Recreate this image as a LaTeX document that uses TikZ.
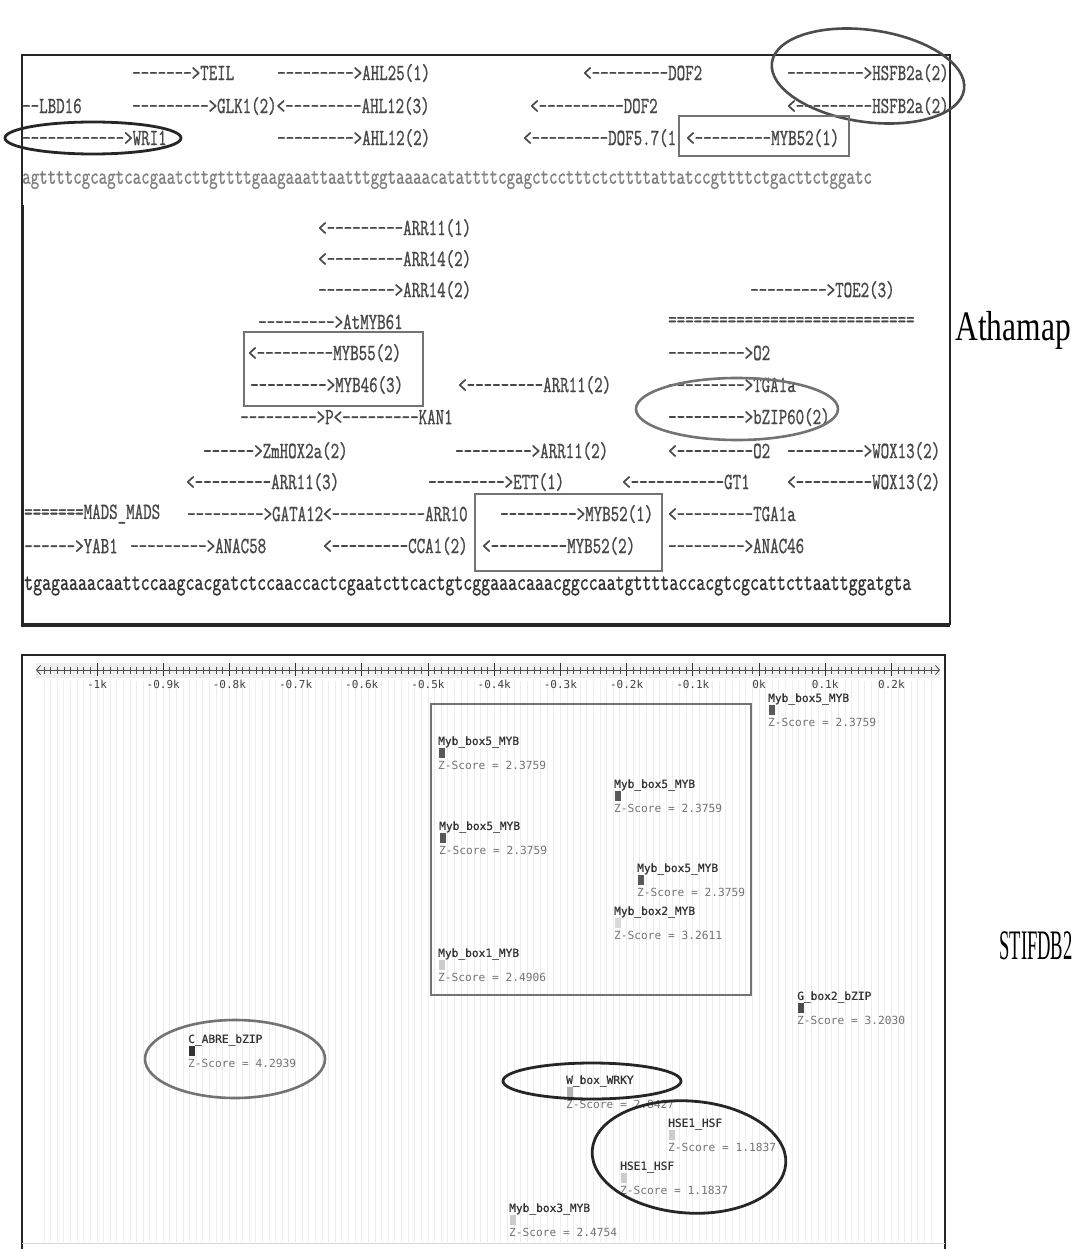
\documentclass[tikz,border=0pt]{standalone}
\usepackage{graphicx}
\usepackage{fontspec}
\setmainfont{Liberation Serif}
\newfontfamily\dnafont[Ligatures=TeXOff, FakeBold=1.2]{Latin Modern Mono}
\newfontfamily\webfont[Ligatures=TeXOff]{DejaVu Sans Mono}
\newfontfamily\webbold[Ligatures=TeXOff, FakeBold=0.8]{DejaVu Sans Mono}
\usetikzlibrary{arrows.meta}
\newcommand{\tall}[1]{\scalebox{1}[1.4]{#1}}
\tikzset{
  lbl/.style={anchor=west, inner sep=0pt, text=black!72, font=\fontsize{16.5}{17}\dnafont},
  seqtxt/.style={anchor=west, inner sep=0pt, text=black!50, font=\fontsize{16.5}{17}\dnafont},
  hilite/.style={draw=black!55, line width=2.6pt},
  ring/.style={draw=black!85, line width=2.8pt},
  sitename/.style={anchor=west, inner sep=0pt, text=black!80, font=\fontsize{11.2}{12}\webbold},
  sitescore/.style={anchor=west, inner sep=0pt, text=black!55, font=\fontsize{11.2}{12}\webfont},
  ticklbl/.style={inner sep=0pt, text=black!75, font=\fontsize{11}{12}\webfont},
  toolname/.style={inner sep=0pt, font=\fontsize{30}{32}\selectfont},
}
% one STIFDB2 hit: name, bar, score
\newcommand{\site}[6]{%
  \node[sitename] (#1n) at (#2,#3) {#4};
  \fill[#6] (#2+0.5,#3+6) rectangle ++(6,10);
  \node[sitescore] (#1z) at (#2,#3+23) {Z-Score = #5};}
\begin{document}
\begin{tikzpicture}[x=1pt,y=-1pt]
\useasboundingbox (0,0) rectangle (1082,1249);

% AthaMap panel
\draw[line width=1.5pt, black!85] (22,55) rectangle (950,624);
\draw[line width=3pt, black!85] (22,205) -- (22,625) -- (950,625);

\node[lbl] (teil) at (132,73) {\tall{------->TEIL}};
\node[lbl] (ahlA) at (277,73) {\tall{--------->AHL25(1)}};
\node[lbl] (dofA) at (583,73) {\tall{<---------DOF2}};
\node[lbl] (hsfA) at (787,73) {\tall{--------->HSFB2a(2)}};

\node[lbl] (lbd) at (22,106) {\tall{--LBD16}};
\node[lbl] (glk) at (132,106) {\tall{--------->GLK1(2)<---------AHL12(3)}};
\node[lbl] (dofB) at (530,106) {\tall{<----------DOF2}};
\node[lbl] (hsfB) at (787,106) {\tall{<---------HSFB2a(2)}};

\node[lbl] (wri) at (22,138) {\tall{------------>WRI1}};
\node[lbl] (ahlC) at (277,138) {\tall{--------->AHL12(2)}};
\node[lbl] (dofC) at (523,138) {\tall{<---------DOF5.7(1}};
\node[lbl] (mybA) at (686,138) {\tall{<---------MYB52(1)}};

\node[seqtxt] (seqA) at (22,180) {\tall{agttttcgcagtcacgaatcttgttttgaagaaattaatttggtaaaacatattttcgagctcctttctcttttattatccgttttctgacttctggatc}};

\node[lbl] (arrA) at (318,228) {\tall{<---------ARR11(1)}};
\node[lbl] (arrB) at (318,259) {\tall{<---------ARR14(2)}};
\node[lbl] (arrC) at (318,290) {\tall{--------->ARR14(2)}};
\node[lbl] (toe) at (750,290) {\tall{--------->TOE2(3)}};
\node[lbl] (atmyb) at (258,322) {\tall{--------->AtMYB61}};
\node[lbl] (eqs) at (668,322) {\tall{=============================}};
\node[lbl] (myb55) at (248,353) {\tall{<---------MYB55(2)}};
\node[lbl] (otwo) at (668,353) {\tall{--------->O2}};
\node[lbl] (myb46) at (250,385) {\tall{--------->MYB46(3)}};
\node[lbl] (arrD) at (458,385) {\tall{<---------ARR11(2)}};
\node[lbl] (tga) at (668,385) {\tall{--------->TGA1a}};
\node[lbl] (pkan) at (240,417) {\tall{--------->P<---------KAN1}};
\node[lbl] (bzip) at (668,417) {\tall{--------->bZIP60(2)}};
\node[lbl] (zmhox) at (203,451) {\tall{------>ZmHOX2a(2)}};
\node[lbl] (arrE) at (455,451) {\tall{--------->ARR11(2)}};
\node[lbl] (otwoB) at (668,451) {\tall{<---------O2}};
\node[lbl] (woxA) at (787,451) {\tall{--------->WOX13(2)}};
\node[lbl] (arrF) at (186,482) {\tall{<---------ARR11(3)}};
\node[lbl] (ett) at (428,482) {\tall{--------->ETT(1)}};
\node[lbl] (gt) at (622,482) {\tall{<-----------GT1}};
\node[lbl] (woxB) at (787,482) {\tall{<---------WOX13(2)}};
\node[lbl] (mads) at (24,514) {\tall{=======MADS\_MADS}};
\node[lbl] (gata) at (187,514) {\tall{--------->GATA12<-----------ARR10}};
\node[lbl] (mybB) at (500,514) {\tall{--------->MYB52(1)}};
\node[lbl] (tgaB) at (668,514) {\tall{<---------TGA1a}};
\node[lbl] (yab) at (24,546) {\tall{------>YAB1}};
\node[lbl] (anac58) at (130,546) {\tall{--------->ANAC58}};
\node[lbl] (cca) at (323,546) {\tall{<---------CCA1(2)}};
\node[lbl] (mybC) at (482,546) {\tall{<---------MYB52(2)}};
\node[lbl] (anac46) at (668,546) {\tall{--------->ANAC46}};

\node[seqtxt, text=black!80, font=\fontsize{17.4}{18}\dnafont] (seqB) at (24,586) {\tall{tgagaaaacaattccaagcacgatctccaaccactcgaatcttcactgtcggaaacaaacggccaatgttttaccacgtcgcattcttaattggatgta}};

% marks on the AthaMap panel
\draw[ring] (93,138) ellipse (88 and 16);
\draw[hilite, black!70, rotate around={-8:(868,76)}] (868,76) ellipse (97 and 46);
\draw[hilite] (679,116) rectangle (849,156);
\draw[hilite] (244,332) rectangle (423,406);
\draw[hilite] (737,409) ellipse (101 and 31);
\draw[hilite] (475,494) rectangle (662,571);

\node[toolname] (athamap) at (1013,330) {\scalebox{1.05}[1.4]{Athamap}};

% STIFDB2 panel
\foreach \i in {-108,...,26} {
  \pgfmathsetmacro\xx{759+6.62*\i}
  \draw[black!7, line width=1pt] (\xx,681) -- (\xx,1242);
}
\draw[line width=1.5pt, black!85] (22,1249) -- (22,655) -- (945,655) -- (945,1249);
\draw[black!15, line width=1pt] (22,1243) -- (945,1243);

\fill[black!6] (36,663) rectangle (940,678);
\coordinate (rulL) at (36,670);
\coordinate (rulR) at (940,670);
\draw[black!70, line width=0.8pt, {Straight Barb[length=4pt,width=9pt]}-{Straight Barb[length=4pt,width=9pt]}] (rulL) -- (rulR);
\foreach \i in {-108,...,26} {
  \pgfmathsetmacro\xx{759+6.62*\i}
  \draw[black!70, line width=0.7pt] (\xx,666.5) -- (\xx,673.5);
}
\foreach \k/\t [count=\c] in {-10/-1k,-9/-0.9k,-8/-0.8k,-7/-0.7k,-6/-0.6k,-5/-0.5k,-4/-0.4k,-3/-0.3k,-2/-0.2k,-1/-0.1k,0/0k,1/0.1k,2/0.2k} {
  \draw[black!80, line width=1pt] (759+66.2*\k,663) -- (759+66.2*\k,676);
  \node[ticklbl] (tick\c) at (759+66.2*\k,684) {\t};
}

\draw[hilite] (431,704) rectangle (751,995);

\site{sa}{768}{699}{Myb\_box5\_MYB}{2.3759}{black!65}
\site{sb}{438}{742}{Myb\_box5\_MYB}{2.3759}{black!65}
\site{sc}{614}{785}{Myb\_box5\_MYB}{2.3759}{black!65}
\site{sd}{439}{827}{Myb\_box5\_MYB}{2.3759}{black!65}
\site{se}{637}{869}{Myb\_box5\_MYB}{2.3759}{black!65}
\site{sf}{614}{912}{Myb\_box2\_MYB}{3.2611}{black!15}
\site{sg}{438}{954}{Myb\_box1\_MYB}{2.4906}{black!20}
\site{sh}{797}{997}{G\_box2\_bZIP}{3.2030}{black!70}
\site{si}{188}{1040}{C\_ABRE\_bZIP}{4.2939}{black!80}
\site{sj}{566}{1081}{W\_box\_WRKY}{2.8427}{black!30}
\site{sk}{668}{1124}{HSE1\_HSF}{1.1837}{black!20}
\site{sl}{620}{1167}{HSE1\_HSF}{1.1837}{black!20}
\site{sm}{509}{1209}{Myb\_box3\_MYB}{2.4754}{black!20}

\draw[hilite] (235,1059) ellipse (90 and 39);
\draw[ring] (592,1081) ellipse (89 and 18);
\draw[ring, rotate around={-4:(689,1157)}] (689,1157) ellipse (97 and 56);

\node[toolname] (stif) at (1036,946) {\scalebox{0.62}[1.4]{STIFDB2}};
\end{tikzpicture}
\end{document}
